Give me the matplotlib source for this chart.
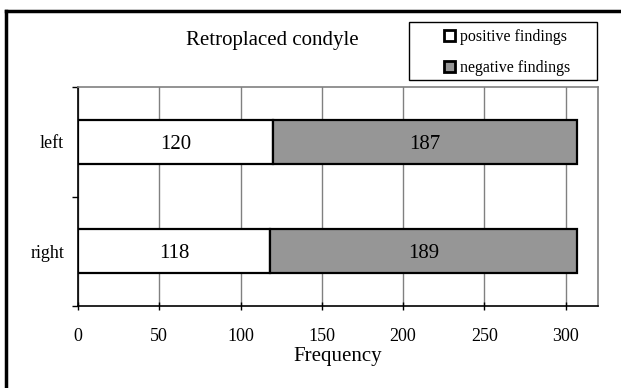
import matplotlib
matplotlib.use('Agg')
import matplotlib.pyplot as plt
from matplotlib.lines import Line2D
from matplotlib.patches import Patch, Rectangle

plt.rcParams['font.family'] = ['Liberation Serif', 'DejaVu Serif']

# data
sides = ['right', 'left']
positive = [118, 120]
negative = [189, 187]
series_names = ['positive findings', 'negative findings']
x_ticks = [0, 50, 100, 150, 200, 250, 300]

W, H = 621, 388
fig = plt.figure(figsize=(W / 100, H / 100), dpi=100)
ax = fig.add_axes([78 / W, 1 - 306 / H, 520 / W, 219 / H])

y = list(range(len(sides)))
ax.barh(y, positive, height=0.4, color='white', edgecolor='black', linewidth=1.6, zorder=3)
ax.barh(y, negative, left=positive, height=0.4, color='#969696', edgecolor='black',
        linewidth=1.6, zorder=3)

for i in y:
    ax.text(positive[i] / 2, i, str(positive[i]), ha='center', va='center_baseline',
            fontsize=15, zorder=4)
    ax.text(positive[i] + negative[i] / 2, i, str(negative[i]), ha='center',
            va='center_baseline', fontsize=15, zorder=4)

ax.set_xlim(0, 320)
ax.set_ylim(-0.5, 1.5)
ax.set_xticks(x_ticks)
ax.set_yticks(y)
ax.set_yticklabels(sides)
ax.set_yticks([-0.5, 0.5, 1.5], minor=True)
ax.tick_params(axis='y', which='major', length=0, pad=10, labelsize=13)
ax.tick_params(axis='y', which='minor', length=4, width=1, direction='out')
ax.tick_params(axis='x', which='major', length=6, width=1, direction='inout', labelsize=13, pad=13)

ax.xaxis.grid(True, color='#808080', linewidth=1, zorder=0)
ax.set_axisbelow(True)

for side in ['top', 'right']:
    ax.spines[side].set_color('#808080')
    ax.spines[side].set_linewidth(1.2)
for side in ['left', 'bottom']:
    ax.spines[side].set_color('black')
    ax.spines[side].set_linewidth(1.2)

ax.set_xlabel('Frequency', fontsize=15, labelpad=1)

fig.text(272 / W, 1 - 41 / H, 'Retroplaced condyle', ha='center', va='center', fontsize=15)

# legend box
fig.add_artist(Rectangle((409 / W, 1 - 80 / H), 188 / W, 58 / H, transform=fig.transFigure,
                         facecolor='white', edgecolor='black', linewidth=1, zorder=5))
handles = [Patch(facecolor='white', edgecolor='black', linewidth=2),
           Patch(facecolor='#969696', edgecolor='black', linewidth=2)]
leg = fig.legend(handles, series_names, loc='upper left',
                 bbox_to_anchor=(441 / W, 1 - 26 / H), fontsize=11.5,
                 frameon=False, borderpad=0.2,
                 handlelength=0.7, handleheight=0.7, handletextpad=0.3,
                 labelspacing=0.95, borderaxespad=0)
leg.set_zorder(6)

# outer border (top and left only visible)
fig.add_artist(Line2D([5.5 / W, 1], [1 - 10.5 / H, 1 - 10.5 / H], color='black', linewidth=2.5))
fig.add_artist(Line2D([5.5 / W, 5.5 / W], [0, 1 - 10.5 / H], color='black', linewidth=2.5))

fig.savefig('out.png', dpi=100)
